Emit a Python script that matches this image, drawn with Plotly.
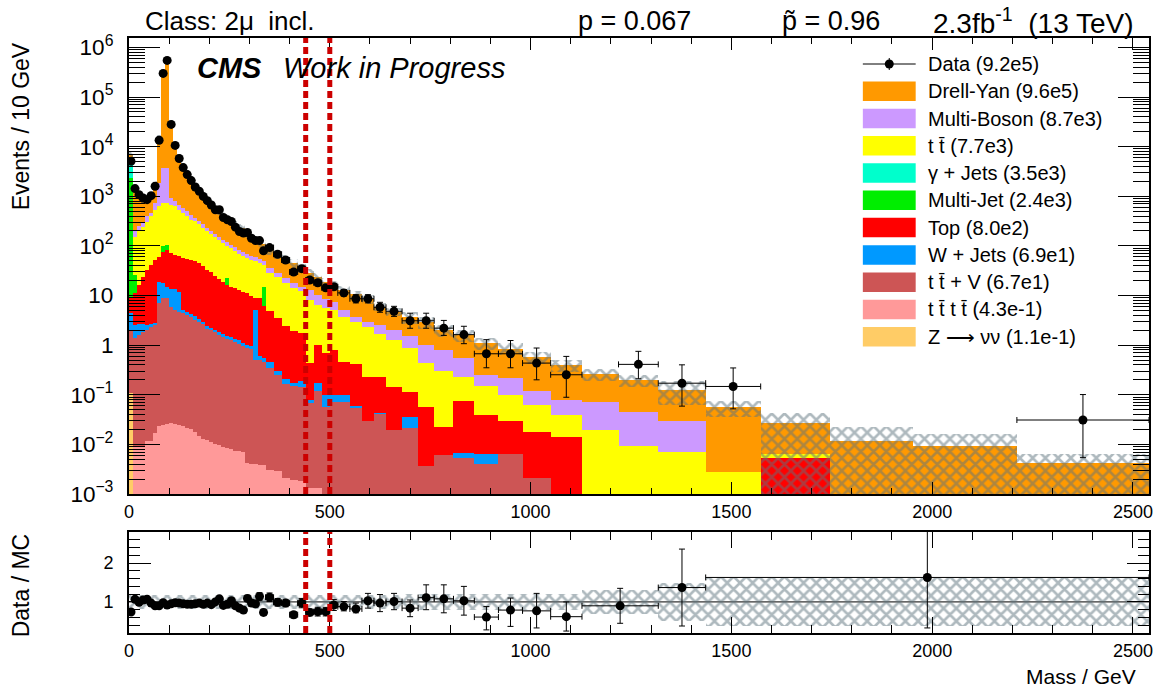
import plotly.graph_objects as go

# ---------------------------------------------------------------- binning (GeV)
edges = [0, 10, 20, 30, 40, 50, 60, 70, 80, 90, 100, 110, 120, 130, 140, 150,
         160, 170, 180, 190, 200, 210, 220, 230, 240, 250, 260, 270, 280, 290,
         300, 310, 320, 330, 340, 360, 380, 400, 420, 440, 460, 480, 500, 520,
         550, 580, 610, 640, 680, 720, 760, 808, 860, 920, 980, 1050, 1128,
         1219, 1318, 1436, 1573, 1745, 1953, 2211, 2540]

# ---------------------------------------------------------------- data, Events / 10 GeV
data = [5090, 1430, 1080, 925, 855, 1030, 1590, 13500, 299000, 548000,
        28100, 10600, 5770, 3790, 2740, 2070, 1540, 1260, 995, 815,
        667, 536, 536, 374, 336, 310, 239, 195, 181, 186,
        143, 128, 128, 80, 92.5, 68, 52, 29.8, 34.8, 20.5,
        18.1, 14.3, 15.0, 11.3, 8.6, 8.6, 5.8, 4.8, 3.1, 3.1,
        2.2, 1.63, 0.67, 0.67, 0.435, 0.253, None, 0.41, 0.171, 0.147,
        None, None, None, 0.031]
data_err_up = [71, 38, 33, 30, 29, 32, 40, 116, 547, 740,
               168, 103, 76, 62, 52, 45, 39, 35, 32, 29,
               26, 23, 23, 19, 18, 18, 15, 14, 13, 14,
               12, 11, 11, 9, 9.1, 6.7, 5.1, 3.7, 4.3, 2.5,
               2.7, 2.1, 2.3, 1.9, 1.8, 1.8, 1.5, 1.26, 1.3, 1.3,
               0.95, 0.77, 0.62, 0.57, 0.44, 0.34, 0, 0.34, 0.23, 0.2,
               0, 0, 0, 0.07]
data_err_dn = [71, 38, 33, 30, 29, 32, 40, 116, 547, 740,
               168, 103, 76, 62, 52, 45, 39, 35, 32, 29,
               26, 23, 23, 19, 18, 18, 15, 14, 13, 14,
               12, 11, 11, 9, 8.3, 6.1, 4.6, 3.3, 3.8, 2.3,
               2.4, 1.9, 2.0, 1.6, 1.5, 1.5, 1.2, 1.0, 0.91, 0.91,
               0.63, 0.56, 0.32, 0.32, 0.235, 0.164, 0, 0.2, 0.112, 0.095,
               0, 0, 0, 0.0256]

# ---------------------------------------------------------------- simulated processes, Events / 10 GeV
drellyan = [1030, 1141, 836, 571, 399, 596, 1026, 13140, 301360, 591960,
            28655, 10031, 5274, 3402, 2416, 1775, 1251, 979, 788, 609,
            516, 361, 344, 279, 239, 196, 173, 149, 153, 102,
            84, 76, 57, 60, 47.2, 40.1, 31.1, 26.6, 20.9, 15.2,
            13.9, 10.4, 8.8, 7.74, 6.8, 5.41, 3.38, 2.75, 2.18, 1.91,
            1.255, 1.02, 0.844, 0.63, 0.447, 0.311, 0.1945, 0.154, 0.094, 0.053,
            0.0205, 0.0118, 0.0094, 0.0043]
multiboson = [30, 43, 59, 67, 94, 74, 205, 1235, 3009, 3009,
              249, 164, 140, 129, 107, 89, 56, 49, 41, 34,
              30, 26, 23, 20, 18, 16, 14, 13, 13, 13,
              11, 10, 10, 9, 6.1, 5.4, 4.3, 3.4, 2.9, 4.8,
              3.8, 3.2, 2.44, 1.36, 0.76, 0.61, 0.94, 0.75, 0.65, 0.56,
              0.485, 0.327, 0.103, 0.119, 0.055, 0.039, 0.0507, 0.0363, 0.0231, 0,
              0, 0, 0, 0]
ttbar = [10, 126, 180, 219, 273, 351, 484, 565, 630, 626,
         604, 559, 473, 401, 337, 284, 264, 227, 192, 164,
         142, 124, 107.5, 93.3, 77.5, 74.2, 64.9, 57.1, 51.3, 44.8,
         42.3, 40.1, 36.1, 26.2, 24.2, 19.75, 15.8, 12.6, 10.4, 7.67,
         5.41, 4.79, 4.27, 3.25, 2.52, 2.1, 1.43, 1.11, 0.75, 0.374,
         0.277, 0.159, 0.113, 0.071, 0.0456, 0.0262, 0.0198, 0.0094, 0.0069, 0.0028,
         0.0011, 0, 0, 0]
gammajets = [3500, 0, 0, 0, 0, 0, 0, 0, 0, 0,
             0, 0, 0, 0, 0, 0, 0, 0, 0, 0,
             0, 0, 0, 0, 0, 0, 0, 0, 0, 0,
             0, 0, 0, 0, 0, 0, 0, 0, 0, 0,
             0, 0, 0, 0, 0, 0, 0, 0, 0, 0,
             0, 0, 0, 0, 0, 0, 0, 0, 0, 0,
             0, 0, 0, 0]
multijet = [2300, 15, 0, 0, 0, 0, 0, 0, 25, 22,
            0, 0, 0, 0, 0, 0, 0, 0, 0, 0,
            0, 0, 0, 0, 6.2, 0, 0, 0, 0, 0,
            0, 0, 0, 8.7, 0, 0, 0, 0, 0, 0,
            0, 0, 0, 0, 0, 0, 0, 0, 0, 0,
            0, 0, 0, 0, 0, 0, 0, 0, 0, 0,
            0, 0, 0, 0]
top = [5, 8.7, 13.7, 21, 30, 38, 49, 41, 58, 68,
       58, 52, 51, 53, 50, 48, 45, 42, 36, 31,
       27, 23, 20, 17, 14.8, 13.4, 12.8, 11.7, 10.6, 10.2,
       8.8, 3.9, 8.3, 5.6, 4.4, 3.15, 2.2, 1.73, 1.54, 0.354,
       0.82, 0.61, 0.69, 0.355, 0.36, 0.196, 0.184, 0.123, 0.076, 0.052,
       0.0167, 0.067, 0.0335, 0.0235, 0.0153, 0.0138, 0, 0, 0, 0,
       0.0054, 0, 0, 0]
wjets = [2.5, 1.1, 1.0, 0.8, 0.5, 0.3, 0.3, 11.6, 8.8, 6.1,
         7.7, 8.3, 7.3, 0.6, 0.6, 0.5, 0.6, 0.4, 0.3, 0.2,
         0.2, 0.2, 0.2, 0.25, 0.2, 0.2, 0.2, 0.2, 0.15, 0.12,
         0.13, 4.5, 0.1, 0.1, 0.1, 0.05, 0.05, 0.02, 0.05, 0.006,
         0.05, 0.044, 0.03, 0.03, 0.004, 0, 0.001, 0, 0.015, 0,
         0, 0.0014, 0.0025, 0, 0, 0, 0, 0, 0, 0,
         0, 0, 0, 0]
ttv = [1.9, 1.4, 1.6, 1.8, 2.0, 2.3, 2.5, 7.0, 8.9, 8.9,
       5.8, 5.2, 4.7, 4.4, 4.0, 3.7, 3.2, 2.9, 2.6, 2.2,
       2.0, 1.8, 1.6, 1.45, 1.35, 1.25, 1.15, 1.05, 0.95, 0.88,
       0.82, 0.5, 0.5, 0.45, 0.35, 0.25, 0.16, 0.15, 0.14, 0.07,
       0.12, 0.056, 0.07, 0.07, 0.056, 0.030, 0.041, 0.0195, 0.021, 0.0037,
       0.006, 0.0054, 0.004, 0.0065, 0.0021, 0, 0, 0, 0, 0,
       0, 0, 0, 0]
tttt = [0, 0.009, 0.009, 0.009, 0.0115, 0.0115, 0.017, 0.024, 0.025, 0.026,
        0.027, 0.026, 0.025, 0.023, 0.021, 0.020, 0.018, 0.015, 0.013, 0.012,
        0.011, 0.010, 0.0095, 0.009, 0.0085, 0.008, 0.0075, 0.0072, 0.007, 0.0042,
        0.0041, 0.004, 0.0039, 0.0038, 0.0030, 0.0029, 0.0021, 0.0019, 0.0018, 0.0013,
        0.0013, 0, 0, 0, 0, 0, 0, 0, 0, 0,
        0, 0, 0, 0, 0, 0, 0, 0, 0, 0,
        0, 0, 0, 0]
zvv = [0.11, 0, 0, 0, 0, 0, 0, 0, 0, 0,
       0, 0, 0, 0, 0, 0, 0, 0, 0, 0,
       0, 0, 0, 0, 0, 0, 0, 0, 0, 0,
       0, 0, 0, 0, 0, 0, 0, 0, 0, 0,
       0, 0, 0, 0, 0, 0, 0, 0, 0, 0,
       0, 0, 0, 0, 0, 0, 0, 0, 0, 0,
       0, 0, 0, 0]

# relative uncertainty of the total simulation (up / down)
mc_unc_up = [0.17] * 34 + [0.2] * 14 + [0.27] * 10 + [0.5, 0.37, 0.6, 0.86, 0.75, 0.5]
mc_unc_dn = [0.17] * 34 + [0.2] * 14 + [0.27] * 10 + [0.5, 0.37, 1.0, 1.0, 1.0, 1.0]

# legend: label (with event yield), colour; listed from top of the stack downwards
process_labels = ["Drell-Yan (9.6e5)", "Multi-Boson (8.7e3)", "t t\u0304 (7.7e3)",
                  "\u03b3 + Jets (3.5e3)", "Multi-Jet (2.4e3)", "Top (8.0e2)",
                  "W + Jets (6.9e1)", "t t\u0304 + V (6.7e1)", "t t\u0304 t t\u0304 (4.3e-1)",
                  "Z \u27f6 \u03bd\u03bd (1.1e-1)"]
process_values = [drellyan, multiboson, ttbar, gammajets, multijet, top,
                  wjets, ttv, tttt, zvv]
process_colors = ["#ff9900", "#cc99ff", "#ffff00", "#00ffcc", "#00ee00", "#ff0000",
                  "#0099ff", "#cd5555", "#ff9999", "#ffcc66"]
data_label = "Data (9.2e5)"

# ---------------------------------------------------------------- ratio panel (coarser binning at high mass)
ratio_edges = edges[:57] + [1318, 1436, 2540]
ratio_vals = [0.74, 1.07, 0.99, 1.05, 1.07, 0.97, 0.90, 0.90, 0.98, 0.92,
              0.95, 0.98, 0.97, 0.95, 0.94, 0.94, 0.95, 0.97, 0.94, 0.97,
              0.93, 1.00, 1.08, 0.91, 0.94, 1.03, 0.90, 0.84, 0.79, 1.09,
              0.97, 0.95, 1.14, 0.73, 1.12, 0.99, 0.97, 0.67, 0.97, 0.73,
              0.75, 0.75, 0.92, 0.88, 0.82, 1.03, 0.97, 1.01, 0.84, 1.11,
              1.08, 1.03, 0.61, 0.79, 0.77, 0.62, 0.90, 1.37, 1.63]
ratio_err_up = [0.01, 0.03, 0.03, 0.034, 0.036, 0.03, 0.023, 0.008, 0.002, 0.001,
                0.006, 0.01, 0.013, 0.016, 0.018, 0.02, 0.024, 0.027, 0.03, 0.035,
                0.036, 0.043, 0.046, 0.046, 0.05, 0.06, 0.056, 0.06, 0.057, 0.082,
                0.082, 0.081, 0.098, 0.082, 0.11, 0.098, 0.095, 0.083, 0.12, 0.089,
                0.112, 0.11, 0.14, 0.13, 0.15, 0.19, 0.22, 0.21, 0.21, 0.33,
                0.36, 0.37, 0.27, 0.31, 0.45, 0.38, 0.45, 0.99, 1.2]
ratio_err_dn = [0.01, 0.03, 0.03, 0.034, 0.036, 0.03, 0.023, 0.008, 0.002, 0.001,
                0.006, 0.01, 0.013, 0.016, 0.018, 0.02, 0.024, 0.027, 0.03, 0.035,
                0.036, 0.043, 0.046, 0.046, 0.05, 0.06, 0.056, 0.06, 0.057, 0.082,
                0.082, 0.081, 0.098, 0.082, 0.11, 0.098, 0.095, 0.083, 0.12, 0.089,
                0.112, 0.11, 0.14, 0.11, 0.10, 0.19, 0.22, 0.21, 0.22, 0.31,
                0.36, 0.37, 0.33, 0.42, 0.44, 0.37, 0.45, 0.99, 1.3]
ratio_unc = [0.17] * 48 + [0.2] * 8 + [0.3, 0.5, 0.62]

# signal-region window marked by dashed lines (GeV)
window = [440, 500]

# ---------------------------------------------------------------- geometry
NB = len(edges) - 1
for s in [data, data_err_up, data_err_dn, mc_unc_up, mc_unc_dn] + process_values:
    assert len(s) == NB
assert len(ratio_vals) == len(ratio_edges) - 1 == len(ratio_unc)

FIG_W, FIG_H = 1165, 693
FL, FR, FT, FB = 129, 1152, 38, 633      # outer frame (px)
MAIN_BOTTOM, RATIO_TOP = 494, 532


def fx(px):
    return (px - FL) / (FR - FL)


def fy(py):
    return (FB - py) / (FB - FT)


centers = [(a + b) / 2 for a, b in zip(edges[:-1], edges[1:])]
widths = [b - a for a, b in zip(edges[:-1], edges[1:])]
half = [w / 2 for w in widths]
r_centers = [(a + b) / 2 for a, b in zip(ratio_edges[:-1], ratio_edges[1:])]
r_widths = [b - a for a, b in zip(ratio_edges[:-1], ratio_edges[1:])]
r_half = [w / 2 for w in r_widths]

FONT = "Liberation Sans, Arial, Helvetica, sans-serif"
HATCH = "#5d747d"

fig = go.Figure()

# stacked simulation, bottom layer first
for vals, col in zip(reversed(process_values), reversed(process_colors)):
    fig.add_trace(go.Bar(x=centers, y=vals, width=widths, xaxis="x", yaxis="y",
                         marker=dict(color=col, line=dict(width=0)),
                         showlegend=False, hoverinfo="skip"))

# uncertainty band of the total simulation
total = [sum(p[i] for p in process_values) for i in range(NB)]
band_lo = [max(t * (1 - d), 1e-5) for t, d in zip(total, mc_unc_dn)]
band_h = [t * (1 + u) - lo for t, u, lo in zip(total, mc_unc_up, band_lo)]
hatch = dict(shape="x", fgcolor=HATCH, bgcolor="rgba(0,0,0,0)", size=9,
             solidity=0.5, fillmode="overlay")
fig.add_trace(go.Bar(x=centers, y=band_h, base=band_lo, width=widths,
                     xaxis="x", yaxis="y",
                     marker=dict(color="rgba(0,0,0,0)", line=dict(width=0), pattern=hatch),
                     showlegend=False, hoverinfo="skip"))

# data points
err_style = dict(thickness=1, width=3, color="black")
fig.add_trace(go.Scatter(x=centers, y=data, mode="markers", xaxis="x", yaxis="y",
                         marker=dict(size=9, color="black"),
                         error_y=dict(type="data", symmetric=False, array=data_err_up,
                                      arrayminus=data_err_dn, **err_style),
                         error_x=dict(type="data", array=half, **err_style),
                         showlegend=False, hoverinfo="skip"))

# ratio panel: band and points
fig.add_trace(go.Bar(x=r_centers, y=[2 * u for u in ratio_unc],
                     base=[1 - u for u in ratio_unc], width=r_widths,
                     xaxis="x2", yaxis="y2",
                     marker=dict(color="rgba(0,0,0,0)", line=dict(width=0), pattern=hatch),
                     showlegend=False, hoverinfo="skip"))
fig.add_trace(go.Scatter(x=r_centers, y=ratio_vals, mode="markers", xaxis="x2", yaxis="y2",
                         marker=dict(size=9, color="black"),
                         error_y=dict(type="data", symmetric=False, array=ratio_err_up,
                                      arrayminus=ratio_err_dn, **err_style),
                         error_x=dict(type="data", array=r_half, **err_style),
                         showlegend=False, hoverinfo="skip"))

# ---------------------------------------------------------------- axes
tick_font = dict(family=FONT, size=18, color="black")
common = dict(showline=True, linewidth=2, linecolor="black", mirror="ticks",
              ticks="inside", tickcolor="black", tickwidth=1, showgrid=False,
              zeroline=False, tickfont=tick_font)

x_main = dict(common, domain=[0, 1], anchor="y", range=[0, 2540], tick0=0, dtick=500,
              ticklen=12,
              minor=dict(dtick=100, ticks="inside", ticklen=6, tickcolor="black",
                         tickwidth=1, showgrid=False))
y_main = dict(common, domain=[fy(MAIN_BOTTOM), 1], anchor="x", type="log",
              range=[-3, 6.19], dtick=1, exponentformat="power", ticklen=31,
              ticklabelstandoff=10,
              minor=dict(dtick="D1", ticks="inside", ticklen=16, tickcolor="black",
                         tickwidth=1, showgrid=False))
x_ratio = dict(common, domain=[0, 1], anchor="y2", range=[0, 2540], tick0=0, dtick=500,
               ticklen=16,
               minor=dict(dtick=100, ticks="inside", ticklen=8, tickcolor="black",
                          tickwidth=1, showgrid=False))
y_ratio = dict(common, domain=[0, fy(RATIO_TOP)], anchor="x2", range=[0.2, 2.8],
               tick0=0, dtick=1, ticklen=22, ticklabelstandoff=10,
               minor=dict(dtick=0.2, ticks="inside", ticklen=11, tickcolor="black",
                          tickwidth=1, showgrid=False))

# ---------------------------------------------------------------- shapes
shapes = []
for xv in window:
    for xr, yr in [("x", "y domain"), ("x2", "y2 domain")]:
        shapes.append(dict(type="line", xref=xr, yref=yr, x0=xv, x1=xv, y0=0, y1=1,
                           line=dict(color="#cc0000", width=5, dash="7px,4px"),
                           layer="above"))
shapes.append(dict(type="line", xref="x2 domain", yref="y2", x0=0, x1=1, y0=1, y1=1,
                   line=dict(color="black", width=1), layer="below"))

# legend drawn in the upper right corner
LEG_X0, LEG_X1, LEG_TEXT = 865, 918, 928
LEG_Y0, LEG_DY, BOX_H = 64, 27.27, 19.5
annotations = []


def leg_text(py, text):
    annotations.append(dict(xref="paper", yref="paper", x=fx(LEG_TEXT), y=fy(py),
                            xanchor="left", yanchor="middle", showarrow=False, text=text,
                            font=dict(family=FONT, size=20, color="black")))


shapes.append(dict(type="line", xref="paper", yref="paper", x0=fx(LEG_X0), x1=fx(LEG_X1),
                   y0=fy(LEG_Y0), y1=fy(LEG_Y0), line=dict(color="black", width=1)))
mid = (LEG_X0 + LEG_X1) / 2
shapes.append(dict(type="line", xref="paper", yref="paper", x0=fx(mid), x1=fx(mid),
                   y0=fy(LEG_Y0 - 6), y1=fy(LEG_Y0 + 6), line=dict(color="black", width=1)))
shapes.append(dict(type="circle", xref="paper", yref="paper", x0=fx(mid - 4.5),
                   x1=fx(mid + 4.5), y0=fy(LEG_Y0 + 4.5), y1=fy(LEG_Y0 - 4.5),
                   fillcolor="black", line=dict(color="black", width=0)))
leg_text(LEG_Y0, data_label)
for k, (lab, col) in enumerate(zip(process_labels, process_colors)):
    yc = LEG_Y0 + LEG_DY * (k + 1)
    shapes.append(dict(type="rect", xref="paper", yref="paper", x0=fx(LEG_X0), x1=fx(LEG_X1),
                       y0=fy(yc + BOX_H / 2), y1=fy(yc - BOX_H / 2),
                       fillcolor=col, line=dict(width=0)))
    leg_text(yc, lab)


def text(px, py, s, size, anchor="left", angle=0, **kw):
    annotations.append(dict(xref="paper", yref="paper", x=fx(px), y=fy(py), text=s,
                            xanchor=anchor, yanchor="middle", showarrow=False,
                            textangle=angle,
                            font=dict(family=FONT, size=size, color="black", **kw)))


text(143, 21, "Class: 2\u03bc  incl.", 26)
text(636, 21, "p = 0.067", 27, anchor="center")
text(833, 21, "p\u0303 = 0.96", 27, anchor="center")
text(1139, 21, "2.3fb<sup>-1</sup>  (13 TeV)", 28, anchor="right")
text(195, 68, "<b><i>CMS</i></b>", 29)
text(281, 68, "<i>Work in Progress</i>", 29)
text(21, 126, "Events / 10 GeV", 23, anchor="center", angle=-90)
text(21, 585, "Data / MC", 23, anchor="center", angle=-90)
text(1141, 676, "Mass / GeV", 21, anchor="right")

fig.update_layout(
    width=FIG_W, height=FIG_H,
    margin=dict(l=FL, r=FIG_W - FR, t=FT, b=FIG_H - FB, pad=0),
    paper_bgcolor="white", plot_bgcolor="white",
    barmode="stack", bargap=0,
    xaxis=x_main, yaxis=y_main, xaxis2=x_ratio, yaxis2=y_ratio,
    shapes=shapes, annotations=annotations,
    font=dict(family=FONT, color="black"),
    showlegend=False,
)

fig.write_html("out.html", config={"displayModeBar": False})
